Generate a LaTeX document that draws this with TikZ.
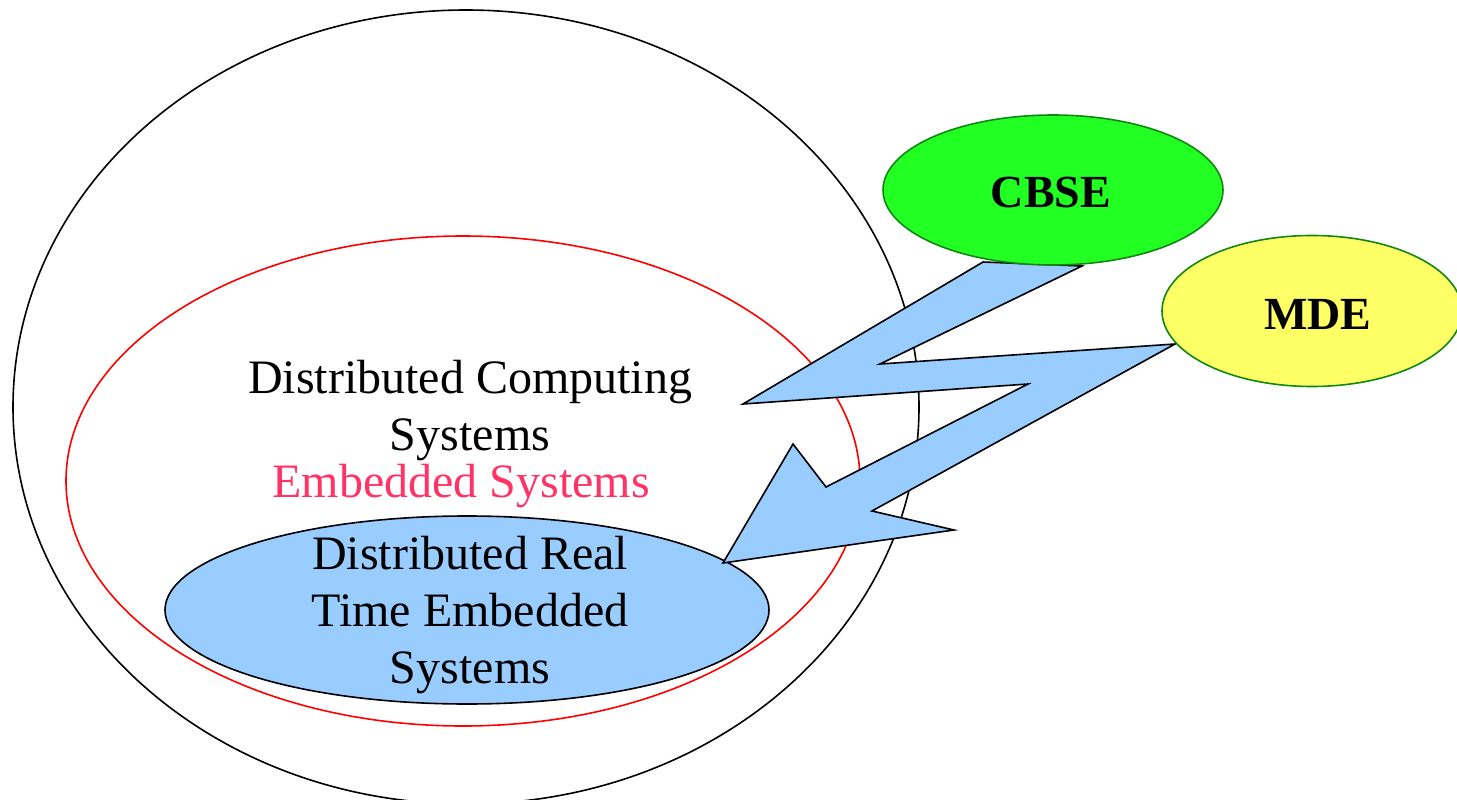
\documentclass[tikz,border=0pt]{standalone}
\usepackage{fontspec}
\setmainfont{Liberation Serif}
\usetikzlibrary{shapes.geometric}
\definecolor{boltblue}{HTML}{99CCFF}
\definecolor{cbsegreen}{HTML}{22FF22}
\definecolor{mdeyellow}{HTML}{FFFF66}
\definecolor{rimgreen}{HTML}{118811}
\definecolor{embpink}{HTML}{FF3366}
\begin{document}
\begin{tikzpicture}[x=1pt, y=-1pt,
    blob/.style={ellipse, inner sep=0pt, line width=1.6pt},
    every node/.append style={font=\fontsize{48}{57}\selectfont, align=center},
    topic/.style={blob, draw=rimgreen, font=\fontsize{46}{55}\selectfont\bfseries}]
  \useasboundingbox (0,0) rectangle (1457,800);
  \node[blob, draw=black, minimum width=906, minimum height=794] (computing) at (466,407) {};
  \node[blob, draw=red, minimum width=794, minimum height=490] (embedded) at (463,481) {};
  \node[blob, draw=black, fill=boltblue, minimum width=604, minimum height=188] (drtes) at (467,610) {};
  \node (dcs) at (470,411) {Distributed Computing\\Systems};
  \node[text=embpink] (emb) at (461,486) {Embedded Systems};
  \node (drtestext) at (470,615) {Distributed Real\\Time Embedded\\Systems};
  % lightning from CBSE and MDE to the real time systems
  \draw[fill=boltblue, line width=1.6pt, line join=miter]
    (983,262) -- (743,404) -- (1028,384) -- (826,487) -- (793,444) -- (723,563)
    -- (954,530) -- (872,511) -- (1175,344) -- (880,364) -- (1082,266) -- cycle;
  \node[topic, fill=cbsegreen, minimum width=340, minimum height=150] (cbse) at (1053,190) {};
  \node[topic, fill=mdeyellow, minimum width=300, minimum height=151] (mde) at (1312,311) {};
  \node[font=\fontsize{46}{55}\selectfont\bfseries] (cbsetext) at (1051,192) {CBSE};
  \node[font=\fontsize{46}{55}\selectfont\bfseries] (mdetext) at (1318,314) {MDE};
\end{tikzpicture}
\end{document}
